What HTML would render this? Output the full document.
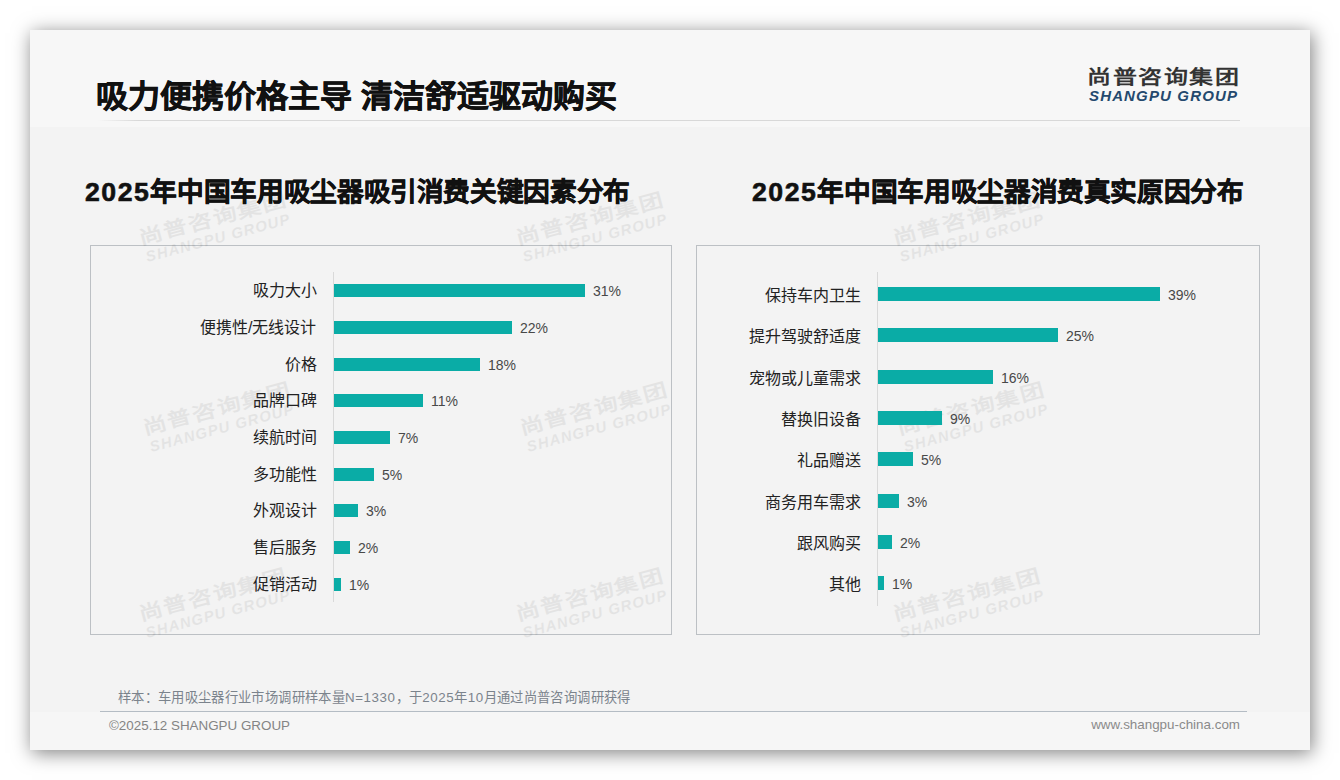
<!DOCTYPE html>
<html lang="zh-CN"><head><meta charset="utf-8">
<style>
html,body{margin:0;padding:0;background:#fff;}
body{width:1340px;height:780px;position:relative;overflow:hidden;font-family:"Liberation Sans",sans-serif;}
.slide{position:absolute;left:30px;top:30px;width:1280px;height:720px;background:#f3f3f3;box-shadow:2px 3px 18px rgba(0,0,0,0.5);overflow:hidden;}
.hdr{position:absolute;left:0;top:0;width:1280px;height:97px;background:#f7f7f7;}
.ftr{position:absolute;left:0;top:682px;width:1280px;height:38px;background:#f6f6f6;}
.abs{position:absolute;white-space:nowrap;}
.title{left:66px;top:46px;font-size:32px;font-weight:bold;color:#111;line-height:40px;-webkit-text-stroke:0.7px #111;transform:scaleY(0.95);transform-origin:0 34.7px;}
.tline{left:68px;top:90px;width:1142px;height:1px;background:linear-gradient(90deg,rgba(210,210,210,0),#d8d8d8 40px,#d8d8d8);}
.logo-cn{left:1057px;top:36.5px;font-size:24px;font-weight:bold;color:#333;letter-spacing:1.5px;line-height:26px;transform:scaleY(0.8);transform-origin:0 0;}
.logo-en{left:1059px;top:58px;font-size:15px;font-weight:bold;font-style:italic;color:#24496e;letter-spacing:1.15px;line-height:16px;}
.ctitle{font-size:26.67px;letter-spacing:-0.35px;font-weight:bold;color:#111;line-height:34px;-webkit-text-stroke:0.6px #111;}
.ctitle b{letter-spacing:1.5px;}
.box{position:absolute;border:1px solid #bcc0c4;box-sizing:border-box;}
.axis{position:absolute;width:1px;background:#d9d9d9;}
.bar{position:absolute;background:#0aaca6;}
.lab{position:absolute;font-size:16px;color:#222;line-height:20px;text-align:right;white-space:nowrap;}
.val{position:absolute;font-size:14px;color:#484848;line-height:18px;white-space:nowrap;}
.note{left:88px;top:659px;font-size:13.33px;letter-spacing:0.35px;color:#7b838c;line-height:18px;}
.note .fw{display:inline-block;width:13.33px;}
.note .lt{letter-spacing:0.6px;}
.fline{left:70px;top:681px;width:1147px;height:1px;background:#b4bcc4;}
.copy{left:79px;top:686.5px;font-size:13.4px;color:#848484;line-height:18px;}
.web{right:70px;top:686px;font-size:13.4px;color:#8a8a8a;line-height:18px;}
.wm{position:absolute;transform:rotate(-15deg);transform-origin:0 100%;opacity:0.06;}
.wm .c{font-size:24px;font-weight:bold;color:#000;letter-spacing:1.5px;line-height:26px;white-space:nowrap;transform:scaleY(0.8);transform-origin:0 0;margin-left:-2px;}
.wm .e{font-size:15px;font-weight:bold;font-style:italic;color:#000;letter-spacing:1.15px;line-height:16px;white-space:nowrap;margin-top:-4.5px;}
</style></head><body>
<div class="slide">
  <div class="hdr"></div>
  <div class="ftr"></div>
  <div class="abs title">吸力便携价格主导 清洁舒适驱动购买</div>
  <div class="abs tline"></div>
  <div class="abs logo-cn">尚普咨询集团</div>
  <div class="abs logo-en">SHANGPU GROUP</div>

  <div class="abs ctitle" style="left:55px;top:144.5px;"><b>2025</b>年中国车用吸尘器吸引消费关键因素分布</div>
  <div class="abs ctitle" style="left:722px;top:144.5px;"><b>2025</b>年中国车用吸尘器消费真实原因分布</div>

  <div class="box" style="left:60px;top:215px;width:582px;height:390px;"></div>
  <div class="box" style="left:666px;top:215px;width:564px;height:390px;"></div>

  <!--CHARTS-->
<div class="wm" style="left:118px;top:197px;"><div class="c">尚普咨询集团</div><div class="e">SHANGPU GROUP</div></div>
<div class="wm" style="left:495px;top:197px;"><div class="c">尚普咨询集团</div><div class="e">SHANGPU GROUP</div></div>
<div class="wm" style="left:872px;top:197px;"><div class="c">尚普咨询集团</div><div class="e">SHANGPU GROUP</div></div>
<div class="wm" style="left:122px;top:386.5px;"><div class="c">尚普咨询集团</div><div class="e">SHANGPU GROUP</div></div>
<div class="wm" style="left:499px;top:386.5px;"><div class="c">尚普咨询集团</div><div class="e">SHANGPU GROUP</div></div>
<div class="wm" style="left:876px;top:386.5px;"><div class="c">尚普咨询集团</div><div class="e">SHANGPU GROUP</div></div>
<div class="wm" style="left:118px;top:573px;"><div class="c">尚普咨询集团</div><div class="e">SHANGPU GROUP</div></div>
<div class="wm" style="left:495px;top:573px;"><div class="c">尚普咨询集团</div><div class="e">SHANGPU GROUP</div></div>
<div class="wm" style="left:872px;top:573px;"><div class="c">尚普咨询集团</div><div class="e">SHANGPU GROUP</div></div>
<div class="axis" style="left:303px;top:242px;height:330px;"></div>
<div class="bar" style="left:304px;top:254px;width:251px;height:13px;"></div>
<div class="lab" style="right:993.5px;top:251.0px;">吸力大小</div>
<div class="val" style="left:563px;top:251.5px;">31%</div>
<div class="bar" style="left:304px;top:291px;width:178px;height:13px;"></div>
<div class="lab" style="right:993.5px;top:288.0px;">便携性/无线设计</div>
<div class="val" style="left:490px;top:288.5px;">22%</div>
<div class="bar" style="left:304px;top:328px;width:146px;height:13px;"></div>
<div class="lab" style="right:993.5px;top:325.0px;">价格</div>
<div class="val" style="left:458px;top:325.5px;">18%</div>
<div class="bar" style="left:304px;top:364px;width:89px;height:13px;"></div>
<div class="lab" style="right:993.5px;top:361.0px;">品牌口碑</div>
<div class="val" style="left:401px;top:361.5px;">11%</div>
<div class="bar" style="left:304px;top:401px;width:56px;height:13px;"></div>
<div class="lab" style="right:993.5px;top:398.0px;">续航时间</div>
<div class="val" style="left:368px;top:398.5px;">7%</div>
<div class="bar" style="left:304px;top:438px;width:40px;height:13px;"></div>
<div class="lab" style="right:993.5px;top:435.0px;">多功能性</div>
<div class="val" style="left:352px;top:435.5px;">5%</div>
<div class="bar" style="left:304px;top:474px;width:24px;height:13px;"></div>
<div class="lab" style="right:993.5px;top:471.0px;">外观设计</div>
<div class="val" style="left:336px;top:471.5px;">3%</div>
<div class="bar" style="left:304px;top:511px;width:16px;height:13px;"></div>
<div class="lab" style="right:993.5px;top:508.0px;">售后服务</div>
<div class="val" style="left:328px;top:508.5px;">2%</div>
<div class="bar" style="left:304px;top:548px;width:7px;height:13px;"></div>
<div class="lab" style="right:993.5px;top:545.0px;">促销活动</div>
<div class="val" style="left:319px;top:545.5px;">1%</div>
<div class="axis" style="left:847px;top:242px;height:334px;"></div>
<div class="bar" style="left:848px;top:257px;width:282px;height:14px;"></div>
<div class="lab" style="right:449.5px;top:255.5px;">保持车内卫生</div>
<div class="val" style="left:1138px;top:256.0px;">39%</div>
<div class="bar" style="left:848px;top:298px;width:180px;height:14px;"></div>
<div class="lab" style="right:449.5px;top:296.5px;">提升驾驶舒适度</div>
<div class="val" style="left:1036px;top:297.0px;">25%</div>
<div class="bar" style="left:848px;top:340px;width:115px;height:14px;"></div>
<div class="lab" style="right:449.5px;top:338.5px;">宠物或儿童需求</div>
<div class="val" style="left:971px;top:339.0px;">16%</div>
<div class="bar" style="left:848px;top:381px;width:64px;height:14px;"></div>
<div class="lab" style="right:449.5px;top:379.5px;">替换旧设备</div>
<div class="val" style="left:920px;top:380.0px;">9%</div>
<div class="bar" style="left:848px;top:422px;width:35px;height:14px;"></div>
<div class="lab" style="right:449.5px;top:420.5px;">礼品赠送</div>
<div class="val" style="left:891px;top:421.0px;">5%</div>
<div class="bar" style="left:848px;top:464px;width:21px;height:14px;"></div>
<div class="lab" style="right:449.5px;top:462.5px;">商务用车需求</div>
<div class="val" style="left:877px;top:463.0px;">3%</div>
<div class="bar" style="left:848px;top:505px;width:14px;height:14px;"></div>
<div class="lab" style="right:449.5px;top:503.5px;">跟风购买</div>
<div class="val" style="left:870px;top:504.0px;">2%</div>
<div class="bar" style="left:848px;top:546px;width:6px;height:14px;"></div>
<div class="lab" style="right:449.5px;top:544.5px;">其他</div>
<div class="val" style="left:862px;top:545.0px;">1%</div>
<!--/CHARTS-->

  <div class="abs note">样本<span class="fw">：</span>车用吸尘器行业市场调研样本量<span class="lt">N=1330</span><span class="fw">，</span>于<span class="lt">2025</span>年<span class="lt">10</span>月通过尚普咨询调研获得</div>
  <div class="abs fline"></div>
  <div class="abs copy">©2025.12 SHANGPU GROUP</div>
  <div class="abs web">www.shangpu-china.com</div>
</div>
</body></html>
